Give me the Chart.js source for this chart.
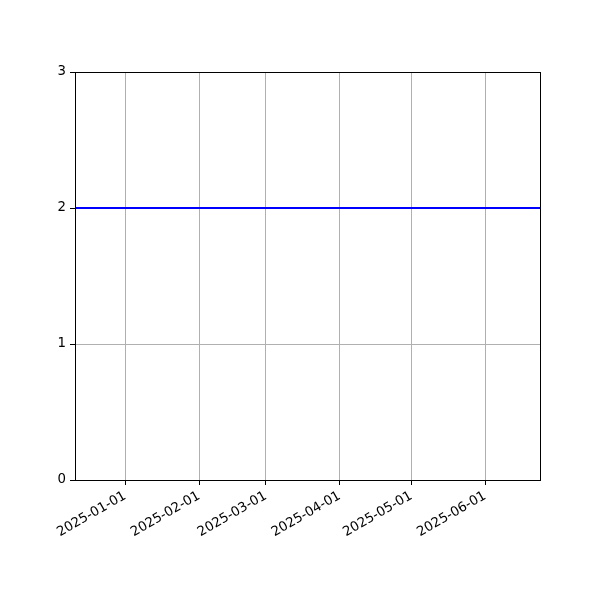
<!DOCTYPE html>
<html>
<head>
<meta charset="utf-8">
<script src="https://cdn.jsdelivr.net/npm/chart.js@4/dist/chart.umd.min.js"></script>
<style>
  html, body { margin: 0; padding: 0; background: #fff; }
  canvas { display: block; }
</style>
</head>
<body>
<canvas id="myChart" width="600" height="600"></canvas>
<script>
    const dates = ["2024-12-11", "2025-06-24"];
    const values = [2, 2];
    const tickDates = ["2025-01-01", "2025-02-01", "2025-03-01", "2025-04-01", "2025-05-01", "2025-06-01"];
    const yTicks = [0, 1, 2, 3];

    const DAY = 86400000;
    const toDay = s => Date.parse(s + "T00:00:00Z") / DAY;
    const fromDay = d => new Date(Math.round(d) * DAY).toISOString().slice(0, 10);

    const points = dates.map((d, i) => ({ x: toDay(d), y: values[i] }));

    // matplotlib draws a box round the whole plot area
    const frame = {
        id: "frame",
        afterDraw(chart) {
            const a = chart.chartArea, ctx = chart.ctx;
            ctx.save();
            ctx.strokeStyle = "#000";
            ctx.lineWidth = 1;
            ctx.strokeRect(Math.round(a.left) + 0.5, Math.round(a.top) + 0.5,
                Math.round(a.right - a.left), Math.round(a.bottom - a.top));
            ctx.restore();
        }
    };

    Chart.defaults.font.family = "'DejaVu Sans', sans-serif";
    Chart.defaults.font.size = 13.3;
    Chart.defaults.color = "#000";

    new Chart("myChart", {
        type: "line",
        data: {
            datasets: [{
                data: points,
                borderColor: "#0000ff",
                borderWidth: 2,
                pointRadius: 0,
                fill: false
            }]
        },
        options: {
            responsive: false,
            animation: false,
            layout: { padding: { left: 0, top: 72, right: 60, bottom: 0 } },
            plugins: { legend: { display: false }, tooltip: { enabled: false } },
            scales: {
                x: {
                    type: "linear",
                    min: toDay(dates[0]),
                    max: toDay(dates[dates.length - 1]),
                    afterBuildTicks: s => { s.ticks = tickDates.map(d => ({ value: toDay(d) })); },
                    afterFit: s => { s.height = 120; },
                    ticks: {
                        callback: v => fromDay(v),
                        minRotation: 30,
                        maxRotation: 30,
                        padding: 3
                    },
                    grid: { color: "#b0b0b0", lineWidth: 1, tickColor: "#000", tickLength: 5 },
                    border: { display: false }
                },
                y: {
                    min: 0,
                    max: 3,
                    afterBuildTicks: s => { s.ticks = yTicks.map(v => ({ value: v })); },
                    afterFit: s => { s.width = 75; },
                    ticks: { padding: 4 },
                    grid: { color: "#b0b0b0", lineWidth: 1, tickColor: "#000", tickLength: 5 },
                    border: { display: false }
                }
            }
        },
        plugins: [frame]
    });
</script>
</body>
</html>
